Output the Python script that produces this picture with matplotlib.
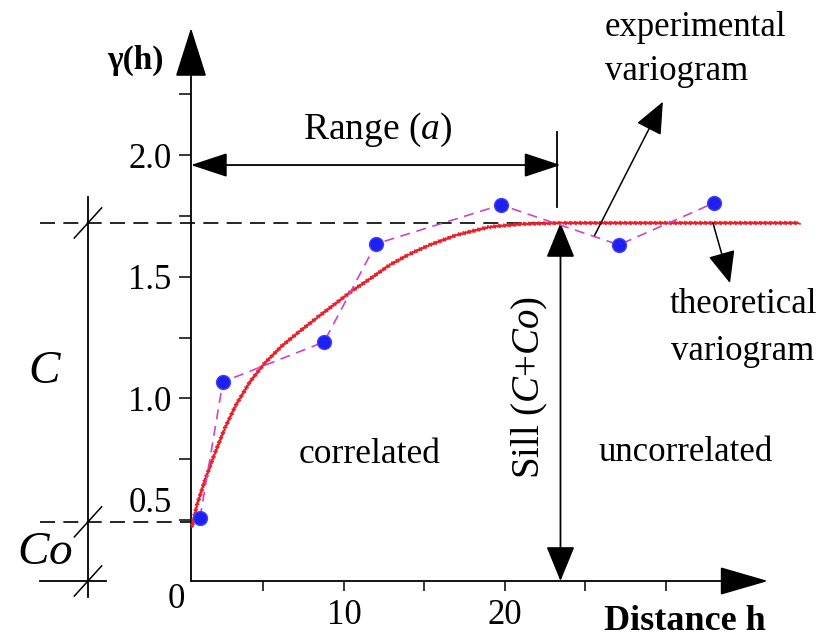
import matplotlib.pyplot as plt

plt.rcParams['font.family'] = ['Liberation Serif', 'DejaVu Serif']
plt.rcParams['mathtext.fontset'] = 'custom'
plt.rcParams['mathtext.rm'] = 'Liberation Serif'
plt.rcParams['mathtext.it'] = 'Liberation Serif:italic'

# experimental variogram
distance = [1.06, 2.48, 8.76, 11.99, 19.75, 27.08, 32.98]
gamma_exp = [0.509, 1.068, 1.232, 1.635, 1.795, 1.631, 1.803]

# theoretical variogram
curve_h = [0.56, 0.87, 1.37, 1.99, 2.61, 3.29, 4.16, 5.09, 6.15, 7.27, 8.39, 9.44,
           10.50, 11.61, 12.86, 14.10, 15.34, 17.02, 19.07, 21.12, 23.60, 38.32]
curve_g = [0.472, 0.563, 0.665, 0.776, 0.879, 0.973, 1.068, 1.146, 1.216, 1.277, 1.335, 1.388,
           1.442, 1.491, 1.549, 1.594, 1.631, 1.672, 1.705, 1.717, 1.721, 1.721]

nugget = 0.493
sill = 1.721
range_a = 23.45

xticks = [5, 10, 15, 20, 25, 30]
xlabels = ['', '10', '', '20', '', '']
yticks = [0.5, 0.75, 1.0, 1.25, 1.5, 1.75, 2.0, 2.25]
ylabels = ['0.5', '', '1.0', '', '1.5', '', '2.0', '']

fig = plt.figure(figsize=(8.19, 6.41), dpi=100)
ax = fig.add_axes([191 / 819, 60 / 641, 577 / 819, 553 / 641])
x0, x1 = 0.5, 36.34
y0, y1 = 0.25, 2.522
ax.set_xlim(x0, x1)
ax.set_ylim(y0, y1)
for s in ax.spines.values():
    s.set_visible(False)

ax.set_xticks(xticks)
ax.set_xticklabels(xlabels, fontsize=25)
ax.set_yticks(yticks)
ax.set_yticklabels(ylabels, fontsize=25)
ax.tick_params(axis='y', direction='out', length=9, width=1.1, pad=5)
ax.tick_params(axis='x', direction='out', length=7, width=1.1, pad=6)
# the 0.5 label sits just above the nugget line in the original
ax.get_yticklabels()[0].set_va('bottom')


def arrow(start, end, style='-|>', hl=1.5, hw=0.5, lw=1.3):
    ax.annotate('', xy=end, xytext=start, annotation_clip=False,
                arrowprops=dict(arrowstyle=f'{style},head_length={hl},head_width={hw}',
                                mutation_scale=20, lw=lw, color='black',
                                shrinkA=0, shrinkB=0))


# axes with arrow heads
arrow((x0, y0), (x0, y1), hl=1.58, hw=0.5)
arrow((x0, y0), (x1, y0), hl=1.55, hw=0.45)

# range and sill
arrow((x0, 1.959), (range_a, 1.959), style='<|-|>', hl=1.15, hw=0.38)
ax.plot([range_a - 0.2, range_a - 0.2], [1.787, 2.095], color='black', lw=1.3)
arrow((range_a, sill), (range_a, y0), style='<|-|>', hl=1.1, hw=0.45)

# dashed reference lines
ax.plot([-8.9, range_a], [sill, sill], color='black', lw=1.2, ls=(0, (9, 5)), clip_on=False)
ax.plot([-8.9, x0], [nugget, nugget], color='black', lw=1.2, ls=(0, (9, 5)), clip_on=False)
ax.plot([-8.9, -4.8], [y0, y0], color='black', lw=1.3, clip_on=False)

# dimension line for C and Co
dim_x = -5.9
ax.plot([dim_x, dim_x], [1.827, 0.185], color='black', lw=1.3, clip_on=False)
for yv in [sill, nugget, y0]:
    ax.plot([dim_x - 0.85, dim_x + 0.85], [yv - 0.062, yv + 0.062], color='black',
            lw=1.1, clip_on=False)

# theoretical curve
red, = ax.plot(curve_h, curve_g, color='#e8202a', lw=1.3, clip_on=False, zorder=3)
red.set_sketch_params(1.5, 2.5, 1)

# experimental variogram
ax.plot(distance, gamma_exp, color='#cc44cc', lw=1.2, ls=(0, (6, 4)), zorder=4)
ax.plot(distance, gamma_exp, 'o', ms=10, color='#1f1fef', mec='#4040ff', zorder=5,
        clip_on=False)

# pointers
arrow((25.53, 1.665), (29.81, 2.219), hl=1.0, hw=0.43, lw=1.1)
arrow((32.92, 1.721), (33.98, 1.474), hl=1.0, hw=0.43, lw=1.1)

# labels
ax.text(-2.98, 2.391, 'γ(h)', fontsize=24, fontweight='bold', ha='center', va='center')
ax.text(12.11, 2.103, 'Range $\\mathit{(a)}$', fontsize=27, ha='center', va='center')
ax.text(26.21, 2.526, 'experimental', fontsize=25, ha='left', va='center')
ax.text(26.21, 2.342, 'variogram', fontsize=25, ha='left', va='center')
ax.text(34.78, 1.384, 'theoretical', fontsize=25, ha='center', va='center')
ax.text(34.78, 1.191, 'variogram', fontsize=25, ha='center', va='center')
ax.text(11.6, 0.768, 'correlated', fontsize=25.5, ha='center', va='center')
ax.text(31.2, 0.776, 'uncorrelated', fontsize=25, ha='center', va='center')
ax.text(21.55, 1.044, 'Sill $\\mathit{(C{+}Co)}$', fontsize=28, rotation=90,
        ha='center', va='center')
ax.text(-8.57, 1.11, '$\\mathit{C}$', fontsize=34, ha='center', va='center')
ax.text(-8.57, 0.365, '$\\mathit{Co}$', fontsize=34, ha='center', va='center')
ax.text(-0.43, 0.172, '0', fontsize=25, ha='center', va='center')
ax.text(31.2, 0.082, 'Distance h', fontsize=26, fontweight='bold', ha='center', va='center')

fig.savefig('out.png', dpi=100)
